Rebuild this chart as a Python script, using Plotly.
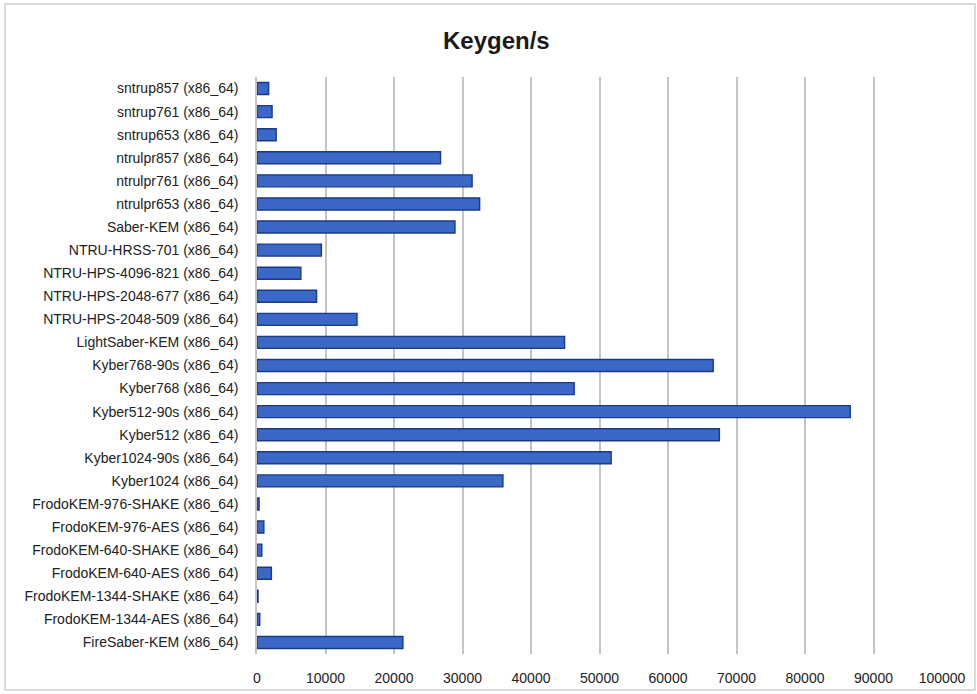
import plotly.graph_objects as go

categories = [
    "sntrup857 (x86_64)", "sntrup761 (x86_64)", "sntrup653 (x86_64)",
    "ntrulpr857 (x86_64)", "ntrulpr761 (x86_64)", "ntrulpr653 (x86_64)",
    "Saber-KEM (x86_64)", "NTRU-HRSS-701 (x86_64)", "NTRU-HPS-4096-821 (x86_64)",
    "NTRU-HPS-2048-677 (x86_64)", "NTRU-HPS-2048-509 (x86_64)", "LightSaber-KEM (x86_64)",
    "Kyber768-90s (x86_64)", "Kyber768 (x86_64)", "Kyber512-90s (x86_64)",
    "Kyber512 (x86_64)", "Kyber1024-90s (x86_64)", "Kyber1024 (x86_64)",
    "FrodoKEM-976-SHAKE (x86_64)", "FrodoKEM-976-AES (x86_64)", "FrodoKEM-640-SHAKE (x86_64)",
    "FrodoKEM-640-AES (x86_64)", "FrodoKEM-1344-SHAKE (x86_64)", "FrodoKEM-1344-AES (x86_64)",
    "FireSaber-KEM (x86_64)",
]
keygen_per_s = [
    1700, 2200, 2800,
    26800, 31400, 32500,
    28900, 9400, 6400,
    8700, 14600, 44900,
    66600, 46300, 86600,
    67500, 51700, 35900,
    300, 1000, 700,
    2100, 150, 400,
    21300,
]
x_ticks = [0, 10000, 20000, 30000, 40000, 50000, 60000, 70000, 80000, 90000, 100000]

W, H = 977, 694
ML, MR, MT, MB = 257, 35, 77, 40
pw, ph = W - ML - MR, H - MT - MB

fig = go.Figure()
fig.add_trace(go.Bar(
    y=categories, x=keygen_per_s, orientation="h",
    marker=dict(color="#3b67c6", line=dict(color="#1b3a85", width=1.4)),
    width=0.52,
))

def px_to_paper_x(px):
    return (px - ML) / pw

def px_to_paper_y(py):
    return (H - MB - py) / ph

fig.update_layout(
    width=W, height=H,
    margin=dict(l=ML, r=MR, t=MT, b=MB),
    paper_bgcolor="white", plot_bgcolor="white",
    title=dict(text="<b>Keygen/s</b>", x=0.508, xanchor="center", y=0.942, yanchor="middle",
               font=dict(family="Liberation Sans, sans-serif", size=24, color="#1a1a1a")),
    font=dict(family="Liberation Sans, sans-serif", size=14, color="#333333"),
    showlegend=False,
    bargap=0.5,
    xaxis=dict(range=[0, 100000], tickvals=x_ticks, ticktext=[str(v) for v in x_ticks],
               showgrid=True, gridcolor="#c4c4c4", gridwidth=1.5, zeroline=False, automargin=False,
               showline=False, ticks="", ticklabelstandoff=14, tickfont=dict(size=14, color="#222222")),
    yaxis=dict(autorange="reversed", showgrid=False, showline=True, linecolor="#c4c4c4", linewidth=1.5,
               automargin=False,
               ticks="", ticklabelstandoff=14, tickfont=dict(size=14, color="#222222")),
    shapes=[dict(type="rect", xref="paper", yref="paper",
                 x0=px_to_paper_x(5), x1=px_to_paper_x(975),
                 y0=px_to_paper_y(690), y1=px_to_paper_y(4),
                 line=dict(color="#d0d0d0", width=1.5), fillcolor="rgba(0,0,0,0)", layer="below")],
)

fig.write_html("out.html", config={"displayModeBar": False},
               post_script="document.body.style.margin='0';document.body.style.overflow='hidden';")
